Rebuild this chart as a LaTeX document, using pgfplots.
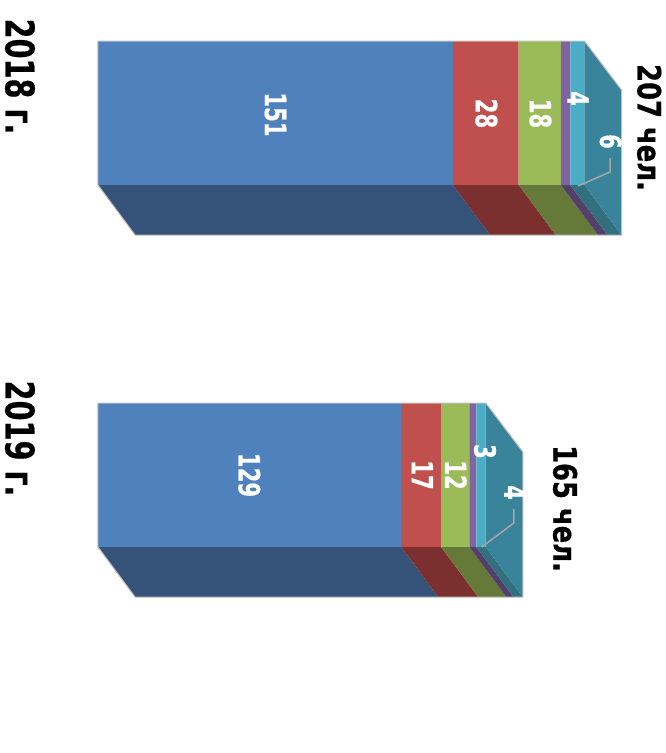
\documentclass[border=0pt]{standalone}
\usepackage{fontspec}
\setmainfont[BoldFeatures={FakeBold=0.6}]{DejaVu Sans}
\usepackage{graphicx}
\usepackage{pgfplots}
\pgfplotsset{compat=1.18}
\definecolor{cblue}{HTML}{4F81BD}
\definecolor{cred}{HTML}{C0504D}
\definecolor{cgreen}{HTML}{9BBB59}
\definecolor{cpurple}{HTML}{8064A2}
\definecolor{caqua}{HTML}{4BACC6}
\definecolor{dblue}{HTML}{355379}
\definecolor{dred}{HTML}{7B302F}
\definecolor{dgreen}{HTML}{657A39}
\definecolor{dpurple}{HTML}{533F6A}
\definecolor{daqua}{HTML}{33707F}
\definecolor{sideteal}{HTML}{3A849B}
\definecolor{edge}{HTML}{BFBFBF}
\definecolor{leader}{HTML}{A6A6A6}
\newcommand{\dlab}[1]{\fontsize{21.2}{24}\selectfont\bfseries\scalebox{1}[1.38]{#1}}
\newcommand{\ttl}[1]{\fontsize{28.7}{32}\selectfont\bfseries\scalebox{1}[1.38]{#1}}
\newcommand{\tot}[1]{\fontsize{25.8}{30}\selectfont\bfseries\scalebox{1}[1.25]{#1}}
\tikzset{
	lab/.style={rotate=-90,inner sep=0pt,anchor=center,text=white},
	head/.style={rotate=-90,inner sep=0pt,anchor=center,text=black},
}
\begin{document}
\begin{tikzpicture}
\begin{axis}[
	scale only axis,
	width=665pt,
	height=753pt,
	xmin=-41.7,
	xmax=241.3,
	ymin=0,
	ymax=753,
	y dir=reverse,
	hide axis,
	clip=false,
	every axis plot/.append style={draw=none},
]
\path[use as bounding box] (axis cs:-41.7,0) rectangle (axis cs:241.3,753);
% 2018: 151 28 18 4 6
\addplot[fill=cblue] coordinates {(0,41) (151,41) (151,185) (0,185) (0,41)};
\addplot[fill=cred] coordinates {(151,41) (179,41) (179,185) (151,185) (151,41)};
\addplot[fill=cgreen] coordinates {(179,41) (197,41) (197,185) (179,185) (179,41)};
\addplot[fill=cpurple] coordinates {(197,41) (201,41) (201,185) (197,185) (197,41)};
\addplot[fill=caqua] coordinates {(201,41) (207,41) (207,185) (201,185) (201,41)};
\addplot[fill=dblue] coordinates {(0,185) (151,185) (166.8,235) (15.8,235) (0,185)};
\addplot[fill=dred] coordinates {(151,185) (179,185) (194.8,235) (166.8,235) (151,185)};
\addplot[fill=dgreen] coordinates {(179,185) (197,185) (212.8,235) (194.8,235) (179,185)};
\addplot[fill=dpurple] coordinates {(197,185) (201,185) (216.8,235) (212.8,235) (197,185)};
\addplot[fill=daqua] coordinates {(201,185) (207,185) (222.8,235) (216.8,235) (201,185)};
\addplot[fill=sideteal] coordinates {(207,41) (222.8,90) (222.8,235) (207,185) (207,41)};
\addplot[draw=edge,line width=1pt] coordinates {(0,41) (207,41) (222.8,90) (222.8,235) (15.8,235) (0,185) (0,41)};
\addplot[draw=leader,line width=1.5pt] coordinates {(204.3,186) (217.9,172) (217.9,158)};
% 2019: 129 17 12 3 4
\addplot[fill=cblue] coordinates {(0,403) (129,403) (129,547) (0,547) (0,403)};
\addplot[fill=cred] coordinates {(129,403) (146,403) (146,547) (129,547) (129,403)};
\addplot[fill=cgreen] coordinates {(146,403) (158,403) (158,547) (146,547) (146,403)};
\addplot[fill=cpurple] coordinates {(158,403) (161,403) (161,547) (158,547) (158,403)};
\addplot[fill=caqua] coordinates {(161,403) (165,403) (165,547) (161,547) (161,403)};
\addplot[fill=dblue] coordinates {(0,547) (129,547) (144.8,597) (15.8,597) (0,547)};
\addplot[fill=dred] coordinates {(129,547) (146,547) (161.8,597) (144.8,597) (129,547)};
\addplot[fill=dgreen] coordinates {(146,547) (158,547) (173.8,597) (161.8,597) (146,547)};
\addplot[fill=dpurple] coordinates {(158,547) (161,547) (176.8,597) (173.8,597) (158,547)};
\addplot[fill=daqua] coordinates {(161,547) (165,547) (180.8,597) (176.8,597) (161,547)};
\addplot[fill=sideteal] coordinates {(165,403) (180.8,452) (180.8,597) (165,547) (165,403)};
\addplot[draw=edge,line width=1pt] coordinates {(0,403) (165,403) (180.8,452) (180.8,597) (15.8,597) (0,547) (0,403)};
\addplot[draw=leader,line width=1.5pt] coordinates {(163.3,547) (177,523) (177,509)};
% labels
\node[lab] at (axis cs:75.5,114.5) {\dlab{151}};
\node[lab] at (axis cs:165.3,113.5) {\dlab{28}};
\node[lab] at (axis cs:188.3,113.5) {\dlab{18}};
\node[lab] at (axis cs:204.3,98.5) {\dlab{4}};
\node[lab] at (axis cs:218.2,141.5) {\dlab{6}};
\node[lab] at (axis cs:64.4,475) {\dlab{129}};
\node[lab] at (axis cs:138,475) {\dlab{17}};
\node[lab] at (axis cs:152.3,475) {\dlab{12}};
\node[lab] at (axis cs:164.7,451.5) {\dlab{3}};
\node[lab] at (axis cs:177.4,492.5) {\dlab{4}};
\node[head] at (axis cs:-33.2,76.5) {\ttl{2018 г.}};
\node[head] at (axis cs:-33.2,438.5) {\ttl{2019 г.}};
\node[head] at (axis cs:234.6,127.5) {\tot{207 чел.}};
\node[head] at (axis cs:198.8,508.5) {\tot{165 чел.}};
\end{axis}
\end{tikzpicture}
\end{document}
